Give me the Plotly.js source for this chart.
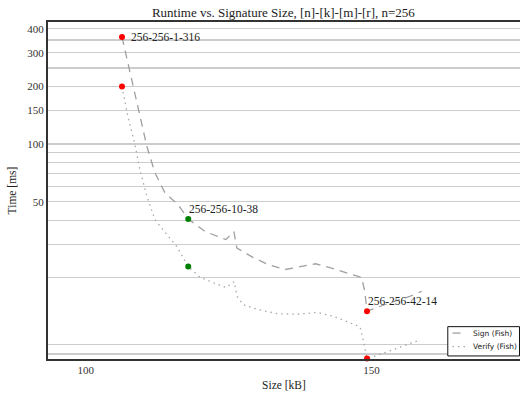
<!DOCTYPE html>
<html>
<head>
<meta charset="utf-8">
<script src="https://cdn.plot.ly/plotly-3.0.1.min.js"></script>
<style>html,body{margin:0;padding:0;overflow:hidden;background:#fff;}</style>
</head>
<body>
<div id="chart" style="width:520px;height:395px;"></div>
<script>
// Signature size (kB) for each parameter set on the frontier
const sizeKB = [106.35, 108.44, 110.72, 112.12, 113.86, 116.14, 117.94, 120.92, 124.53, 125.93,
                126.45, 129.25, 131.87, 134.84, 137.47, 140.26, 142.71, 145.68, 148.30, 148.83,
                149.23, 151.80, 156.70, 158.79];
const signMs = [363, 192, 96.8, 70.8, 55.7, 48.3, 40.6, 34.9, 31.7, 34.9,
                28.6, 25.6, 23.5, 22.1, 22.9, 23.7, 22.6, 21.3, 20.1, 17.0,
                13.4, 14.3, 16.0, 17.0];
const verifySizeKB = [106.35, 107.40, 108.62, 109.49, 110.72, 112.12, 113.51, 115.96, 117.94, 120.03,
                      122.66, 124.58, 125.98, 126.50, 127.55, 130.00, 133.50, 137.00, 140.49, 143.29,
                      145.74, 148.01, 148.71, 149.23, 151.50, 155.00, 158.27];
const verifyMs = [200, 138.8, 99.2, 73.4, 53.1, 40.3, 35.7, 29.1, 22.9, 20.1,
                  18.7, 17.8, 19.1, 16.0, 14.5, 13.7, 13.0, 12.9, 13.2, 12.6,
                  11.8, 11.1, 8.97, 7.59, 7.96, 8.66, 9.42];
// highlighted parameter sets
const hlLabels = ["256-256-1-316", "256-256-10-38", "256-256-42-14"];
const hlSize = [106.35, 117.94, 149.23];
const hlSign = [363, 40.6, 13.4];
const hlVerify = [200, 22.9, 7.59];
const hlColors = ["#ff0000", "#008000", "#ff0000"];
const seriesNames = ["Sign (Fish)", "Verify (Fish)"];
const yGrid = [8, 9, 20, 30, 40, 50, 60, 70, 80, 90, 100, 150, 200, 250, 300, 350, 400];
const yLabeled = [50, 100, 150, 200, 300, 400];
const xTicks = [100, 150];

const serif = "'Liberation Serif', 'DejaVu Serif', serif";
const signColor = '#a0a0a0', verifyColor = '#a8a8a8';
const signDash = '8px,6px', verifyDash = '1.5px,4px';

const traces = [
  {x: sizeKB, y: signMs, mode: 'lines', name: seriesNames[0],
   line: {color: signColor, width: 1.3, dash: signDash}},
  {x: verifySizeKB, y: verifyMs, mode: 'lines', name: seriesNames[1],
   line: {color: verifyColor, width: 1.3, dash: verifyDash}},
  {x: hlSize.concat(hlSize), y: hlSign.concat(hlVerify), mode: 'markers', showlegend: false,
   marker: {color: hlColors.concat(hlColors), size: 6}, cliponaxis: false}
];

const shifts = [[7, 0, 'middle'], [-1, 2, 'bottom'], [-1, 2, 'bottom']];
const annotations = hlLabels.map((t, i) => ({
  x: hlSize[i], y: Math.log10(hlSign[i]), xref: 'x', yref: 'y', text: t, showarrow: false,
  xanchor: 'left', yanchor: shifts[i][2], xshift: shifts[i][0], yshift: shifts[i][1],
  font: {family: serif, size: 11.5, color: '#222'}
}));

// hand-drawn compact legend (paper coordinates of the plot area)
const legFont = {family: "'DejaVu Sans', sans-serif", size: 7.5, color: '#222'};
const legRows = [0.077, 0.037];
const shapes = [
  {type: 'rect', xref: 'paper', yref: 'paper', x0: 0.847, x1: 0.999, y0: 0.009, y1: 0.096,
   line: {color: '#111', width: 1}, fillcolor: '#fff', layer: 'above'},
  {type: 'line', xref: 'paper', yref: 'paper', x0: 0.857, x1: 0.885, y0: legRows[0], y1: legRows[0],
   line: {color: signColor, width: 1.3, dash: signDash}, layer: 'above'},
  {type: 'line', xref: 'paper', yref: 'paper', x0: 0.857, x1: 0.885, y0: legRows[1], y1: legRows[1],
   line: {color: verifyColor, width: 1.3, dash: verifyDash}, layer: 'above'}
];
seriesNames.forEach((n, i) => annotations.push({
  xref: 'paper', yref: 'paper', x: 0.896, y: legRows[i], text: n, showarrow: false,
  xanchor: 'left', yanchor: 'middle', font: legFont
}));

const layout = {
  width: 520, height: 395,
  margin: {l: 48, r: 0, t: 22, b: 36},
  paper_bgcolor: '#fff', plot_bgcolor: '#fff',
  title: {text: 'Runtime vs. Signature Size, [n]-[k]-[m]-[r], n=256',
          font: {family: serif, size: 13, color: '#222'}, x: 0.545, xanchor: 'center', y: 0.968, yanchor: 'middle'},
  xaxis: {range: [93.4, 176], tickvals: xTicks, ticktext: xTicks.map(String), showgrid: false, zeroline: false,
          showline: true, mirror: true, linecolor: '#333', linewidth: 2, ticks: '',
          tickfont: {family: serif, size: 11, color: '#333'},
          title: {text: 'Size [kB]', font: {family: serif, size: 11.5, color: '#222'}, standoff: 6}},
  yaxis: {type: 'log', range: [0.877, 2.638], tickvals: yGrid,
          ticktext: yGrid.map(v => yLabeled.includes(v) ? String(v) : ''),
          showgrid: true, gridcolor: '#cccccc', gridwidth: 1.2, zeroline: false,
          showline: true, mirror: false, linecolor: '#333', linewidth: 2, ticks: '',
          tickfont: {family: serif, size: 11, color: '#333'},
          title: {text: 'Time [ms]', font: {family: serif, size: 11.5, color: '#222'}, standoff: 8}},
  shapes: shapes,
  annotations: annotations,
  showlegend: false
};

Plotly.newPlot('chart', traces, layout, {staticPlot: true, displayModeBar: false});
</script>
</body>
</html>
